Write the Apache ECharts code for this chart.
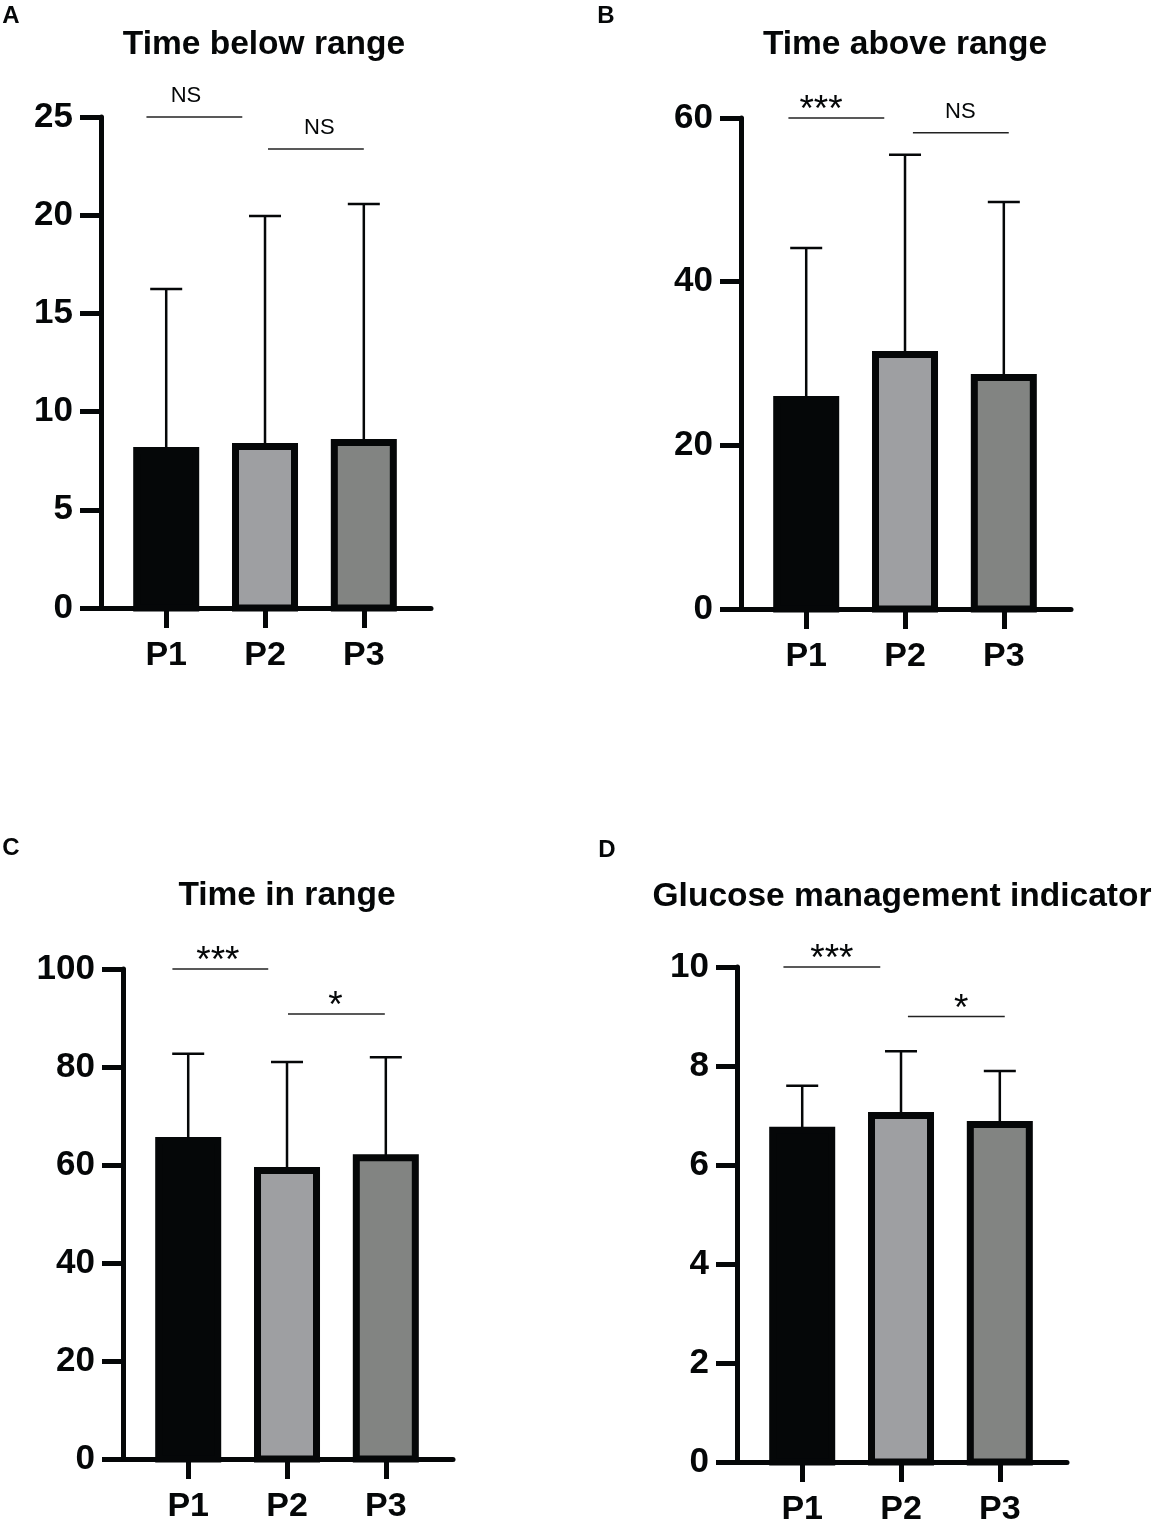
<!DOCTYPE html>
<html>
<head>
<meta charset="utf-8">
<script src="https://cdn.jsdelivr.net/npm/echarts@6/dist/echarts.min.js"></script>
<style>
html,body{margin:0;padding:0;background:#fff;}
#chart{width:1155px;height:1527px;}
</style>
</head>
<body>
<div id="chart"></div>
<script>
// ---------- data ----------
const categories = ['P1', 'P2', 'P3'];
const panelLetters = ['A', 'B', 'C', 'D'];
const panelTitles = ['Time below range', 'Time above range', 'Time in range', 'Glucose management indicator'];

const meanA = [8.02, 8.22, 8.43];
const upperA = [16.24, 19.96, 20.57];
const meanB = [25.6, 31.1, 28.3];
const upperB = [44.1, 55.5, 49.75];
const meanC = [65.0, 58.9, 61.5];
const upperC = [82.7, 81.0, 82.0];
const meanD = [6.70, 7.00, 6.82];
const upperD = [7.60, 8.30, 7.90];

const yMaxes = [25, 60, 100, 10];
const yIntervals = [5, 20, 20, 2];

// significance brackets: [from (category units), to, y value, label x]
const sigA = [[-0.2, 0.77, 25, 0.2], [1.03, 2.0, 23.37, 1.55]];
const sigB = [[-0.18, 0.79, 60, 0.15], [1.08, 2.05, 58.2, 1.56]];
const sigC = [[-0.16, 0.81, 100, 0.30], [1.01, 1.99, 90.8, 1.49]];
const sigD = [[-0.19, 0.79, 10, 0.30], [1.07, 2.05, 9.0, 1.61]];
const sigLabelsA = ['NS', 'NS'];
const sigLabelsB = ['***', 'NS'];
const sigLabelsC = ['***', '*'];
const sigLabelsD = ['***', '*'];

// ---------- style / layout ----------
const FONT = '"Liberation Sans", Arial, Helvetica, sans-serif';
const INK = '#050708';
const fills = ['#050708', '#9e9fa2', '#828482'];
const grids = [
  {left: 101, top: 117, width: 330, height: 491},
  {left: 741, top: 118, width: 330, height: 491},
  {left: 123, top: 969, width: 330, height: 490},
  {left: 737, top: 967, width: 330, height: 499}
];
const titlePos = [[264, 45], [905, 45], [287, 896], [902, 897]];
const letterPos = [[11, 16], [606, 16], [11, 848], [607, 850]];

const means = [meanA, meanB, meanC, meanD];
const uppers = [upperA, upperB, upperC, upperD];
const sigs = [sigA, sigB, sigC, sigD];
const sigLabels = [sigLabelsA, sigLabelsB, sigLabelsC, sigLabelsD];

const BAR_W = 59, BORDER = 7;

const chart = echarts.init(document.getElementById('chart'), null, {renderer: 'canvas'});

const xAxes = [], yAxes = [], series = [], graphics = [];

for (let i = 0; i < 4; i++) {
  xAxes.push({
    type: 'value', gridIndex: i, min: -0.66, max: 2.68,
    splitLine: {show: false},
    axisLine: {show: true, onZero: true, lineStyle: {color: INK, width: 5}},
    axisTick: {show: true, customValues: [0, 1, 2], length: 20, lineStyle: {color: INK, width: 5}},
    axisLabel: {
      show: true, customValues: [0, 1, 2], margin: 31,
      formatter: v => categories[Math.round(v)] || '',
      color: INK, fontSize: 34, fontWeight: 'bold', fontFamily: FONT
    }
  });
  yAxes.push({
    type: 'value', gridIndex: i, min: 0, max: yMaxes[i], interval: yIntervals[i],
    splitLine: {show: false},
    axisLine: {show: true, onZero: false, lineStyle: {color: INK, width: 5}},
    axisTick: {show: true, length: 21, lineStyle: {color: INK, width: 5}},
    axisLabel: {margin: 28, color: INK, fontSize: 35, fontWeight: 'bold', fontFamily: FONT}
  });

  // error bars (upper SD)
  series.push({
    type: 'custom', xAxisIndex: i, yAxisIndex: i, z: 1,
    data: categories.map((c, j) => [j, means[i][j], uppers[i][j]]),
    encode: {x: 0, y: [1, 2]},
    renderItem: function (params, api) {
      const p0 = api.coord([api.value(0), api.value(1)]);
      const p1 = api.coord([api.value(0), api.value(2)]);
      return {
        type: 'group',
        children: [
          {type: 'line', shape: {x1: p0[0], y1: p0[1], x2: p1[0], y2: p1[1]}, style: {stroke: INK, lineWidth: 2.5}},
          {type: 'line', shape: {x1: p1[0] - 16, y1: p1[1], x2: p1[0] + 16, y2: p1[1]}, style: {stroke: INK, lineWidth: 2.5}}
        ]
      };
    }
  });

  // bars (mean) with thick black border
  series.push({
    type: 'custom', xAxisIndex: i, yAxisIndex: i, z: 2,
    data: categories.map((c, j) => [j, means[i][j]]),
    encode: {x: 0, y: 1},
    renderItem: function (params, api) {
      const top = api.coord([api.value(0), api.value(1)]);
      const base = api.coord([api.value(0), 0]);
      return {
        type: 'rect',
        shape: {x: top[0] - BAR_W / 2, y: top[1], width: BAR_W, height: base[1] - top[1]},
        style: {fill: fills[params.dataIndex], stroke: INK, lineWidth: BORDER}
      };
    }
  });

  // significance brackets
  const labs = sigLabels[i];
  series.push({
    type: 'custom', xAxisIndex: i, yAxisIndex: i, z: 3, clip: false,
    data: sigs[i],
    encode: {x: [0, 1, 3], y: 2},
    renderItem: function (params, api) {
      const a = api.coord([api.value(0), api.value(2)]);
      const b = api.coord([api.value(1), api.value(2)]);
      const t = api.coord([api.value(3), api.value(2)]);
      const txt = labs[params.dataIndex];
      const star = txt.indexOf('*') >= 0;
      return {
        type: 'group',
        children: [
          {type: 'line', shape: {x1: a[0], y1: a[1], x2: b[0], y2: b[1]}, style: {stroke: '#222', lineWidth: 1.5}},
          {type: 'text', x: t[0], y: t[1] - (star ? 7 : 21),
            style: {text: txt, align: 'center', verticalAlign: 'middle',
              fontSize: star ? 37 : 22, fontFamily: FONT, fill: INK}}
        ]
      };
    }
  });

  graphics.push({
    type: 'text', x: titlePos[i][0], y: titlePos[i][1],
    style: {text: panelTitles[i], align: 'center', verticalAlign: 'middle',
      fontSize: 33.5, fontWeight: 'bold', fontFamily: FONT, fill: INK}
  });
  graphics.push({
    type: 'text', x: letterPos[i][0], y: letterPos[i][1],
    style: {text: panelLetters[i], align: 'center', verticalAlign: 'middle',
      fontSize: 24, fontWeight: 'bold', fontFamily: FONT, fill: INK}
  });
}

chart.setOption({
  animation: false,
  backgroundColor: '#fff',
  grid: grids.map(g => Object.assign({containLabel: false}, g)),
  xAxis: xAxes,
  yAxis: yAxes,
  series: series,
  graphic: graphics
});
</script>
</body>
</html>
